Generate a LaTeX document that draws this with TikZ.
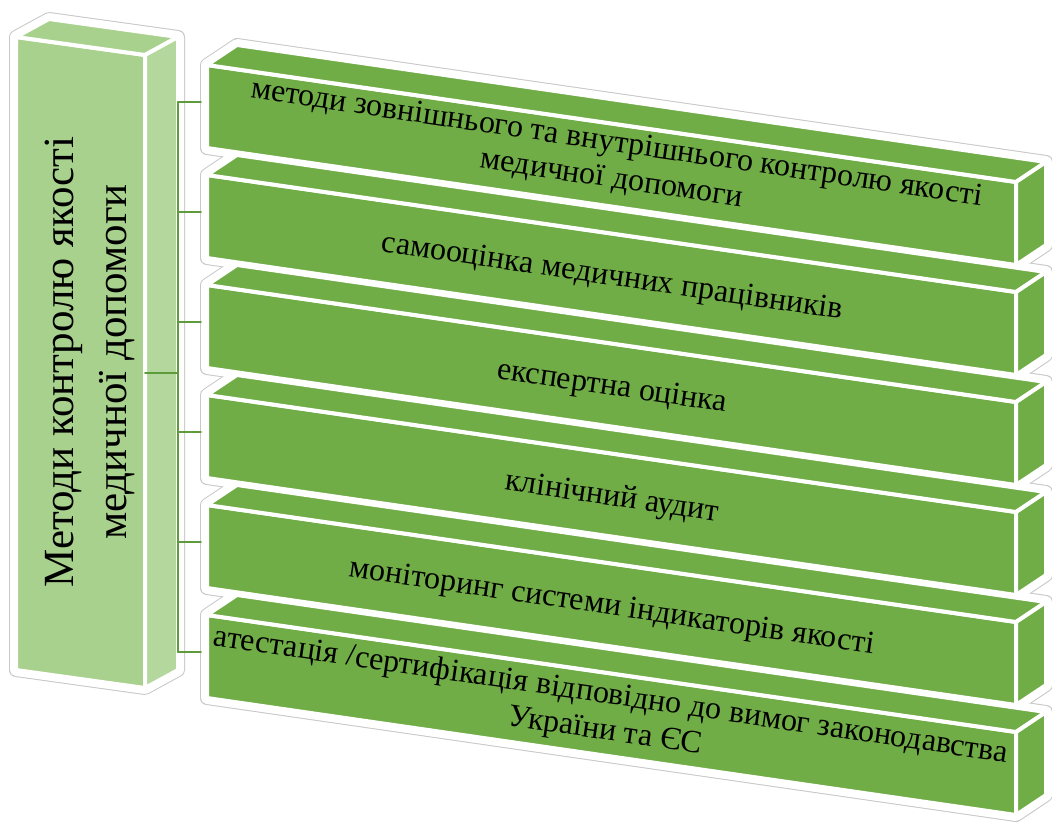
\documentclass[tikz,border=0pt]{standalone}
\usepackage{fontspec}
\setmainfont{Liberation Serif}
\definecolor{barGreen}{HTML}{70AD47}
\definecolor{rootGreen}{HTML}{A9D18E}
\definecolor{linkGreen}{HTML}{5E9B3B}
\definecolor{rimGray}{HTML}{C8C8C8}

\begin{document}
\begin{tikzpicture}[x=1pt, y=-1pt, line join=round, line cap=round,
    rim/.style={draw=rimGray, line width=14pt},
    halo/.style={draw=white, line width=12pt},
    face/.style={draw=white, line width=4pt},
    link/.style={draw=linkGreen, line width=1.6pt},
    bartext/.style={font=\fontsize{32}{36}\selectfont, align=center, rotate=-8.4},
    roottext/.style={font=\fontsize{43}{53}\selectfont, align=center, rotate=90}]
    \useasboundingbox (0,0) rectangle (1052,825);

    % outer rims and white halos
    \foreach \st in {rim, halo} {
        \path[\st] (16,37) -- (49,19) -- (178,37) -- (178,670) -- (145,688) -- (16,670) -- cycle;
        \foreach \i in {0,...,5} {
            \pgfmathsetmacro{\yo}{65+110*\i}
            \path[\st] (207,\yo) -- (237,\yo-20) -- (1046,\yo+97) -- (1046,\yo+180)
                -- (1016,\yo+200) -- (207,\yo+83) -- cycle;
        }
    }

    % root box
    \path[face, fill=rootGreen] (16,37) -- (145,55) -- (145,688) -- (16,670) -- cycle;
    \path[face, fill=rootGreen] (16,37) -- (49,19) -- (178,37) -- (145,55) -- cycle;
    \path[face, fill=rootGreen!88!white] (145,55) -- (178,37) -- (178,670) -- (145,688) -- cycle;

    % bars
    \foreach \i in {0,...,5} {
        \pgfmathsetmacro{\yo}{65+110*\i}
        \path[face, fill=barGreen] (207,\yo) -- (1016,\yo+117) -- (1016,\yo+200) -- (207,\yo+83) -- cycle;
        \path[face, fill=barGreen] (207,\yo) -- (237,\yo-20) -- (1046,\yo+97) -- (1016,\yo+117) -- cycle;
        \path[face, fill=barGreen] (1016,\yo+117) -- (1046,\yo+97) -- (1046,\yo+180) -- (1016,\yo+200) -- cycle;
        \coordinate (j\i) at (178,\yo+37);
        \coordinate (b\i) at (201,\yo+37);
    }

    % connectors
    \coordinate (r) at (145,373);
    \coordinate (jr) at (178,373);
    \draw[link] (r) -- (jr);
    \draw[link] (j0) -- (j5);
    \foreach \i in {0,...,5} \draw[link] (j\i) -- (b\i);

    % labels
    \node[roottext] (root) at (90,362) {Методи контролю якості\\медичної допомоги};
    \node[bartext] (t1) at (614,162) {методи зовнішнього та внутрішнього контролю якості\\медичної допомоги};
    \node[bartext] (t2) at (612,278) {самооцінка медичних працівників};
    \node[bartext] (t3) at (612,388) {експертна оцінка};
    \node[bartext] (t4) at (612,498) {клінічний аудит};
    \node[bartext] (t5) at (612,608) {моніторинг системи індикаторів якості};
    \node[bartext] (t6) at (608,714) {атестація /сертифікація відповідно до вимог законодавства\\України та ЄС};
\end{tikzpicture}
\end{document}
